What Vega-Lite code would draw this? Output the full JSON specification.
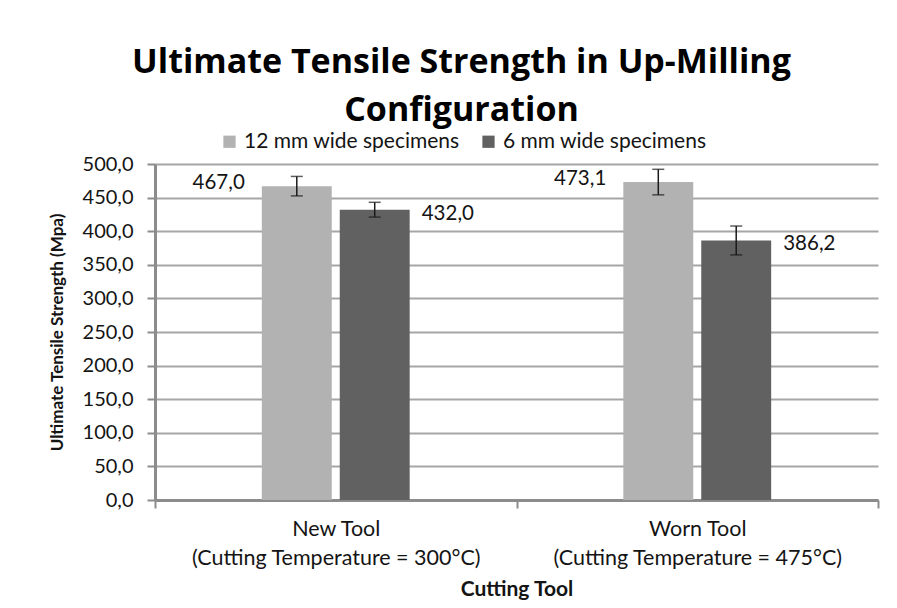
{
  "$schema": "https://vega.github.io/schema/vega-lite/v6.json",
  "width": 723,
  "height": 336,
  "autosize": {"type": "none"},
  "padding": {"left": 155, "top": 164, "right": 19, "bottom": 108},
  "background": "white",
  "config": {
    "font": "Lato",
    "locale": {"number": {"decimal": ",", "thousands": ".", "grouping": [3], "currency": ["", " €"]}},
    "view": {"stroke": null},
    "axisY": {"tickCount": 10, "labelOverlap": false},
    "title": {"font": "Open Sans", "fontSize": 34, "fontWeight": "bold", "color": "#000000", "lineHeight": 48}
  },
  "title": {
    "text": ["Ultimate Tensile Strength in Up-Milling", "Configuration"],
    "anchor": "middle",
    "dx": -55,
    "offset": 3
  },
  "data": {
    "values": [
      {"tool": "New Tool|(Cutting Temperature = 300°C)", "series": "12 mm wide specimens", "value": 467.0, "lo": 452.5, "hi": 481.5},
      {"tool": "New Tool|(Cutting Temperature = 300°C)", "series": "6 mm wide specimens", "value": 432.0, "lo": 421.0, "hi": 443.0},
      {"tool": "Worn Tool|(Cutting Temperature = 475°C)", "series": "12 mm wide specimens", "value": 473.1, "lo": 454.1, "hi": 492.1},
      {"tool": "Worn Tool|(Cutting Temperature = 475°C)", "series": "6 mm wide specimens", "value": 386.2, "lo": 364.7, "hi": 407.7}
    ]
  },
  "encoding": {
    "x": {
      "field": "tool", "type": "nominal", "sort": null,
      "scale": {"paddingInner": 0, "paddingOuter": 0},
      "axis": {
        "title": "Cutting Tool",
        "titleFont": "Lato", "titleFontSize": 21, "titleFontWeight": "bold", "titleColor": "#141414", "titlePadding": 10,
        "labelExpr": "split(datum.label, '|')",
        "labelAngle": 0, "labelFont": "Lato", "labelFontSize": 21.5, "labelColor": "#141414", "labelLineHeight": 29, "labelPadding": 10, "labelLimit": 0,
        "tickBand": "extent", "tickSize": 8, "tickColor": "#8c8c8c", "tickWidth": 2,
        "domainColor": "#8c8c8c", "domainWidth": 3,
        "grid": false
      }
    },
    "xOffset": {
      "field": "series", "type": "nominal",
      "scale": {"domain": [" ", "12 mm wide specimens", "6 mm wide specimens", "  "], "paddingInner": 0.1026, "paddingOuter": 0.371}
    }
  },
  "layer": [
    {
      "mark": {"type": "bar"},
      "encoding": {
        "y": {
          "field": "value", "type": "quantitative",
          "scale": {"domain": [0, 500]},
          "axis": {
            "title": "Ultimate Tensile Strength (Mpa)",
            "titleFont": "Lato", "titleFontSize": 17, "titleFontWeight": "bold", "titleColor": "#141414", "titlePadding": 16,
            "format": ".1f",
            "labelFont": "Lato", "labelFontSize": 20, "labelColor": "#141414", "labelPadding": 14,
            "tickSize": 8, "tickColor": "#8c8c8c", "tickWidth": 2,
            "domainColor": "#8c8c8c", "domainWidth": 3,
            "grid": true, "gridColor": "#a6a6a6", "gridWidth": 2
          }
        },
        "color": {
          "field": "series", "type": "nominal", "sort": null,
          "scale": {"range": ["#b2b2b2", "#616161"]},
          "legend": {
            "title": null, "orient": "none", "direction": "horizontal",
            "legendX": 64, "legendY": -33,
            "symbolType": "square", "symbolSize": 150, "symbolStrokeWidth": 0,
            "labelFont": "Lato", "labelFontSize": 21, "labelColor": "#141414", "labelLimit": 0,
            "columnPadding": 18, "labelOffset": 4
          }
        }
      }
    },
    {
      "mark": {"type": "rule", "color": "#1a1a1a", "strokeWidth": 1.5},
      "encoding": {
        "y": {"field": "lo", "type": "quantitative"},
        "y2": {"field": "hi"}
      }
    },
    {
      "mark": {"type": "tick", "color": "#1a1a1a", "thickness": 1.5, "size": 12, "orient": "horizontal"},
      "encoding": {"y": {"field": "lo", "type": "quantitative"}}
    },
    {
      "mark": {"type": "tick", "color": "#1a1a1a", "thickness": 1.5, "size": 12, "orient": "horizontal"},
      "encoding": {"y": {"field": "hi", "type": "quantitative"}}
    },
    {
      "transform": [{"filter": "datum.series === '12 mm wide specimens'"}],
      "mark": {"type": "text", "align": "right", "baseline": "middle", "dx": -52, "dy": -3, "font": "Lato", "fontSize": 20.5, "color": "#141414"},
      "encoding": {
        "y": {"field": "value", "type": "quantitative"},
        "text": {"field": "value", "type": "quantitative", "format": ".1f"}
      }
    },
    {
      "transform": [{"filter": "datum.series === '6 mm wide specimens'"}],
      "mark": {"type": "text", "align": "left", "baseline": "middle", "dx": 47, "dy": 4, "font": "Lato", "fontSize": 20.5, "color": "#141414"},
      "encoding": {
        "y": {"field": "value", "type": "quantitative"},
        "text": {"field": "value", "type": "quantitative", "format": ".1f"}
      }
    }
  ]
}
